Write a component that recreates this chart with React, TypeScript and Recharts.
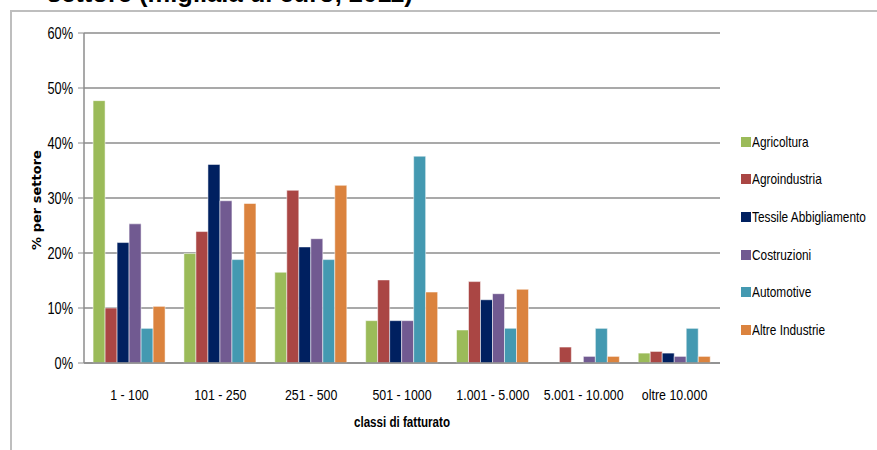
import { BarChart, Bar, XAxis, YAxis, CartesianGrid } from 'recharts';

const classi = ['1 - 100', '101 - 250', '251 - 500', '501 - 1000', '1.001 - 5.000', '5.001 - 10.000', 'oltre 10.000'];

const agricoltura = [47.7, 19.9, 16.5, 7.7, 6.0, 0, 1.8];
const agroindustria = [10.0, 23.9, 31.4, 15.1, 14.8, 2.9, 2.1];
const tessile = [21.9, 36.1, 21.1, 7.7, 11.5, 0, 1.8];
const costruzioni = [25.3, 29.5, 22.6, 7.7, 12.6, 1.2, 1.2];
const automotive = [6.3, 18.8, 18.8, 37.6, 6.3, 6.3, 6.3];
const altre = [10.3, 29.0, 32.3, 12.9, 13.4, 1.2, 1.2];

const yTicks = [0, 10, 20, 30, 40, 50, 60];

const series = [
  { key: 'agricoltura', name: 'Agricoltura', color: '#9BBB59' },
  { key: 'agroindustria', name: 'Agroindustria', color: '#AA4644' },
  { key: 'tessile', name: 'Tessile Abbigliamento', color: '#002060' },
  { key: 'costruzioni', name: 'Costruzioni', color: '#715A91' },
  { key: 'automotive', name: 'Automotive', color: '#4499B1' },
  { key: 'altre', name: 'Altre Industrie', color: '#DB833E' },
];

const data = classi.map((c, i) => ({
  classe: c,
  agricoltura: agricoltura[i],
  agroindustria: agroindustria[i],
  tessile: tessile[i],
  costruzioni: costruzioni[i],
  automotive: automotive[i],
  altre: altre[i],
}));

const font = '"Liberation Sans", Arial, sans-serif';
const squeeze = 0.8;

// narrow text, to look like the Calibri of the original
function XTick({ x, y, payload }: any) {
  return (
    <g transform={`translate(${x},${y})`}>
      <text transform={`scale(${squeeze},1)`} y={29} textAnchor="middle" fontFamily={font} fontSize={15.5} fill="#000">
        {payload.value}
      </text>
    </g>
  );
}

function YTick({ y, payload }: any) {
  return (
    <g transform={`translate(73,${y})`}>
      <text transform={`scale(${squeeze},1)`} y={5.5} textAnchor="end" fontFamily={font} fontSize={16} fill="#000">
        {`${payload.value}%`}
      </text>
    </g>
  );
}

function LegendBox() {
  return (
    <div style={{ position: 'absolute', left: 741, top: 123, fontFamily: font, fontSize: 14.8, color: '#000' }}>
      {series.map((s) => (
        <div key={s.key} style={{ display: 'flex', alignItems: 'center', height: 37.6, whiteSpace: 'nowrap' }}>
          <span style={{ display: 'inline-block', width: 10, height: 10, background: s.color, marginRight: 1 }} />
          <span style={{ display: 'inline-block', transform: `scaleX(${squeeze})`, transformOrigin: 'left center' }}>{s.name}</span>
        </div>
      ))}
    </div>
  );
}

export default function App() {
  return (
    <div style={{ position: 'absolute', left: 0, top: 0, width: 877, height: 450, overflow: 'hidden', background: '#fff' }}>
      <div style={{ position: 'absolute', left: 10, top: 10, width: 900, height: 500, border: '2px solid #BEBEBE' }} />
      <div style={{ position: 'absolute', left: 47, top: -21, fontFamily: font, fontWeight: 700, fontSize: 25.5, whiteSpace: 'nowrap' }}>
        settore (migliaia di euro, 2011)
      </div>
      <div style={{ position: 'absolute', left: 0, top: 0 }}>
        <BarChart width={877} height={450} data={data} margin={{ top: 33, right: 157, left: 0, bottom: 0 }} barGap={0} barCategoryGap="10%">
          <CartesianGrid vertical={false} stroke="#8C8C8C" strokeWidth={1.5} />
          <XAxis
            dataKey="classe"
            height={87}
            tickLine={false}
            axisLine={{ stroke: '#8C8C8C', strokeWidth: 1.5 }}
            tick={<XTick />}
            interval={0}
          />
          <YAxis
            width={84}
            domain={[0, 60]}
            ticks={yTicks}
            tickSize={6}
            tickLine={{ stroke: '#8C8C8C' }}
            axisLine={{ stroke: '#8C8C8C', strokeWidth: 1.5 }}
            tick={<YTick />}
          />
          {series.map((s) => (
            <Bar key={s.key} dataKey={s.key} name={s.name} fill={s.color} stroke="#ffffff" strokeOpacity={0.5} strokeWidth={1} isAnimationActive={false} />
          ))}
          <text x={402} y={427} textAnchor="middle" fontFamily={font} fontSize={14.5} fontWeight={700} fill="#000" transform={`translate(${402 * (1 - squeeze)},0) scale(${squeeze},1)`}>
            classi di fatturato
          </text>
          <text x={0} y={0} transform="translate(41,200) rotate(-90)" textAnchor="middle" fontFamily='"DejaVu Sans", sans-serif' fontSize={13} fontWeight={700} fill="#000">
            % per settore
          </text>
        </BarChart>
      </div>
      <LegendBox />
    </div>
  );
}
